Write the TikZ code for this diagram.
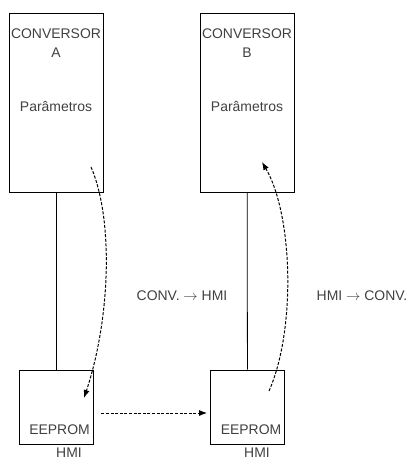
\documentclass[tikz,border=0pt]{standalone}
\usepackage{fontspec}
\setmainfont{Liberation Sans}
\usetikzlibrary{calc,positioning,arrows.meta}

\tikzset{
  convbox/.style={draw, rectangle, line width=0.8bp, minimum width=94bp, minimum height=179bp, inner sep=0pt},
  eepbox/.style={draw, rectangle, line width=0.8bp, minimum width=74bp, minimum height=74bp, inner sep=0pt},
  txt/.style={font=\fontsize{14}{19}\selectfont, text=black!75, inner sep=1pt, align=center},
  flow/.style={line width=1bp, dash pattern=on 3bp off 1.6bp, -{Latex[length=8bp,width=6bp]}}
}

\begin{document}
\begin{tikzpicture}[x=1bp,y=-1bp]
  \useasboundingbox (0,0) rectangle (411,461);
  % converters
  \node[convbox] (convA) at (56,102.5) {};
  \node[convbox] (convB) at (247,102.5) {};
  \node[txt, below=15bp of convA.north] (titleA) {CONVERSOR\\A};
  \node[txt, below=15bp of convB.north] (titleB) {CONVERSOR\\B};
  \node[txt] (parA) at (56,106) {Parâmetros};
  \node[txt] (parB) at (247,106) {Parâmetros};
  % HMI units
  \node[eepbox] (eepA) at (56,407) {};
  \node[eepbox] (eepB) at (247.5,407) {};
  \node[txt] (romA) at (59.5,430) {EEPROM};
  \node[txt] (romB) at (251,430) {EEPROM};
  \node[txt] (hmiA) at (69,452.5) {HMI};
  \node[txt] (hmiB) at (257,452.5) {HMI};
  \draw[line width=0.8bp] (convA) -- (eepA);
  \draw[line width=0.8bp] (convB) -- (eepB);
  % transfer labels
  \node[txt] (upload) at (182,296) {CONV. $\rightarrow$ HMI};
  \node[txt] (download) at (362,296) {HMI $\rightarrow$ CONV.};
  % data paths
  \coordinate (outA) at (91,167);
  \coordinate (inA) at (84,398);
  \coordinate (outB) at (269,391);
  \coordinate (inB) at (262,162);
  \draw[flow] (outA) .. controls (114,220) and (110,320) .. (inA);
  \draw[flow] (outB) .. controls (296,330) and (293,215) .. (inB);
  \draw[flow] ($(eepA.east)+(8,6)$) -- ($(eepB.west)+(-3,6)$);
\end{tikzpicture}
\end{document}
